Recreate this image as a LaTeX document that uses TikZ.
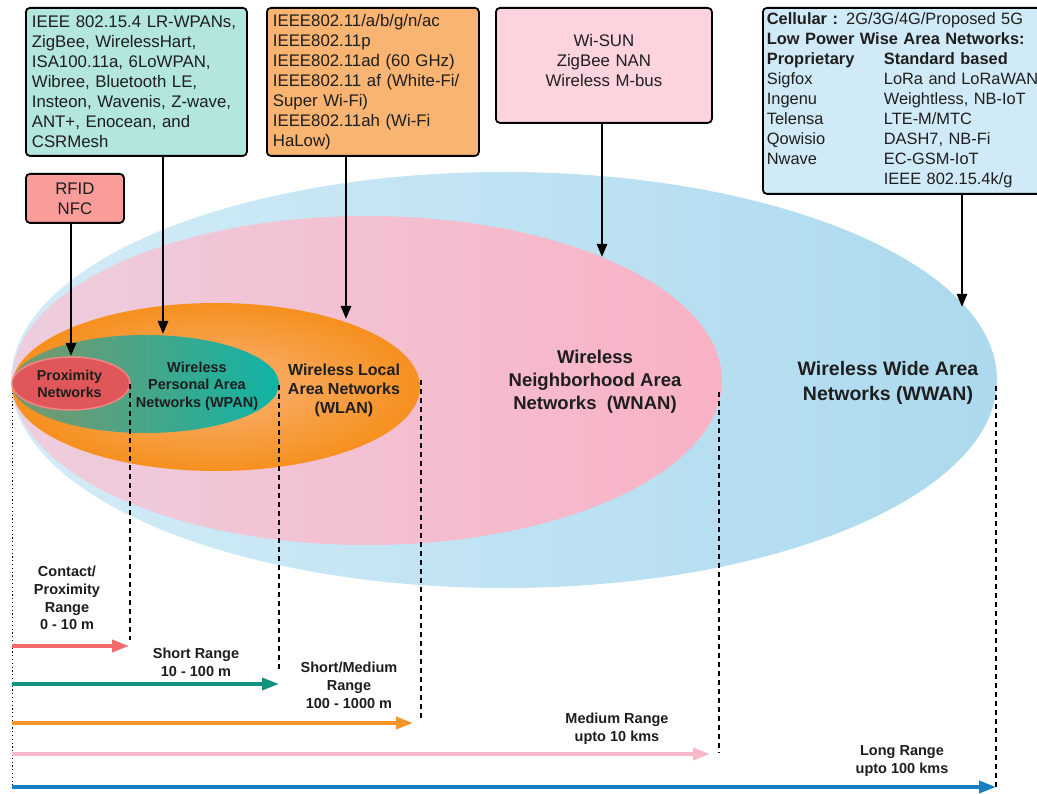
\documentclass[tikz,border=0pt]{standalone}
\usepackage{fontspec}
\setmainfont{Liberation Sans}
\usetikzlibrary{shapes.geometric,arrows.meta}
\definecolor{wwanL}{HTML}{D3ECF7}
\definecolor{wwanR}{HTML}{ACD9EE}
\definecolor{wnanL}{HTML}{EDCEDE}
\definecolor{wnanR}{HTML}{F9B2C5}
\definecolor{wlanIn}{HTML}{F9B37A}
\definecolor{wlanOut}{HTML}{F6901E}
\definecolor{wpanL}{HTML}{7C976A}
\definecolor{wpanR}{HTML}{10B4A6}
\definecolor{proxF}{HTML}{E0575A}
\definecolor{proxD}{HTML}{F28585}
\definecolor{boxTeal}{HTML}{B3E6DF}
\definecolor{boxOrange}{HTML}{FAB472}
\definecolor{boxPink}{HTML}{FDD3DE}
\definecolor{boxBlue}{HTML}{D0EAF7}
\definecolor{boxRed}{HTML}{F99C9A}
\definecolor{rRed}{HTML}{F26B6B}
\definecolor{rTeal}{HTML}{15917F}
\definecolor{rOrange}{HTML}{F5952C}
\definecolor{rPink}{HTML}{F7B8CA}
\definecolor{rBlue}{HTML}{1580C0}
\definecolor{txt}{HTML}{1E1E1E}
\begin{document}
\begin{tikzpicture}[x=1pt,y=-1pt,
  box/.style={draw=black, line width=1.8pt, rounded corners=4pt, anchor=north west,
    inner xsep=6pt, inner ysep=0pt, text=txt, font=\fontsize{16.8}{20}\selectfont},
  ell/.style={ellipse, draw=none, inner sep=0pt, outer sep=0pt},
  lbl/.style={align=center, inner sep=0pt, text=txt},
  conn/.style={line width=2.5pt, -{Triangle[length=13pt,width=10pt]}},
  guide/.style={line width=1.6pt, dash pattern=on 5pt off 4pt},
  rng/.style={line width=3.6pt, -{Triangle[length=17pt,width=12pt]}},
]
\useasboundingbox (0,0) rectangle (1037,794);
\fill[white] (0,0) rectangle (1037,794);

% ellipses
\node[ell, minimum width=986, minimum height=416, left color=wwanL, right color=wwanR] (wwan) at (504,380) {};
\node[ell, minimum width=710, minimum height=329, left color=wnanL, right color=wnanR] (wnan) at (367,380.5) {};
\node[ell, minimum width=408, minimum height=168, inner color=wlanIn, outer color=wlanOut] (wlan) at (216,387) {};
\node[ell, minimum width=267, minimum height=98, left color=wpanL, right color=wpanR] (wpan) at (145.5,384) {};
\node[ell, minimum width=118, minimum height=53, fill=proxF, draw=proxD, line width=1.5pt] (prox) at (71,383.5) {};

% ellipse labels
\node[lbl, font=\bfseries\fontsize{14.3}{17}\selectfont] (proxlbl) at (69.5,384) {Proximity\\Networks};
\node[lbl, font=\bfseries\fontsize{14.5}{17.5}\selectfont] (wpanlbl) at (197,386) {Wireless\\Personal Area\\Networks (WPAN)};
\node[lbl, font=\bfseries\fontsize{16}{19}\selectfont] (wlanlbl) at (344,390) {Wireless Local\\Area Networks\\(WLAN)};
\node[lbl, font=\bfseries\fontsize{18.5}{23}\selectfont] (wnanlbl) at (595,382) {Wireless\\Neighborhood Area\\Networks\ \ (WNAN)};
\node[lbl, font=\bfseries\fontsize{19.5}{25}\selectfont] (wwanlbl) at (888,383) {Wireless Wide Area\\Networks (WWAN)};

% boxes
\node[box, fill=boxTeal, minimum width=221, minimum height=148, text width=209, align=left] (wpanbox) at (25,7)
  {IEEE 802.15.4 LR-WPANs,\\ZigBee, WirelessHart,\\ISA100.11a, 6LoWPAN,\\Wibree, Bluetooth LE,\\Insteon, Wavenis, Z-wave,\\ANT+, Enocean, and\\CSRMesh};
\node[box, fill=boxOrange, minimum width=212, minimum height=148, text width=200, align=left] (wlanbox) at (266,7)
  {IEEE802.11/a/b/g/n/ac\\IEEE802.11p\\IEEE802.11ad (60 GHz)\\IEEE802.11 af (White-Fi/\\Super Wi-Fi)\\IEEE802.11ah (Wi-Fi\\HaLow)};
\node[box, fill=boxPink, minimum width=216, minimum height=115, text width=204, align=center] (wnanbox) at (495,7)
  {Wi-SUN\\ZigBee NAN\\Wireless M-bus\\[-10pt]\mbox{}};
\node[box, fill=boxBlue, minimum width=290, minimum height=186, inner xsep=4pt, text width=282, align=left,
      font=\fontsize{16.4}{20}\selectfont] (wwanbox) at (762,7)
  {\begin{tabular}{@{}p{117pt}@{}l@{}}
   \multicolumn{2}{@{}l@{}}{\textbf{Cellular :} 2G/3G/4G/Proposed 5G}\\
   \multicolumn{2}{@{}l@{}}{\textbf{Low Power Wise Area Networks:}}\\
   \textbf{Proprietary} & \textbf{Standard based}\\
   Sigfox & LoRa and LoRaWAN\\
   Ingenu & Weightless, NB-IoT\\
   Telensa & LTE-M/MTC\\
   Qowisio & DASH7, NB-Fi\\
   Nwave & EC-GSM-IoT\\
    & IEEE 802.15.4k/g
   \end{tabular}};
\node[box, fill=boxRed, minimum width=98, minimum height=49, text width=86, align=center] (proxbox) at (25,173)
  {RFID\\NFC};

% connector tips
\coordinate (tProx) at (71,356);
\coordinate (tWpan) at (163,334);
\coordinate (tWlan) at (346,319);
\coordinate (tWnan) at (602,257);
\coordinate (tWwan) at (962,307);

\draw[conn] (proxbox.south -| tProx) -- (tProx);
\draw[conn] (wpanbox.south -| tWpan) -- (tWpan);
\draw[conn] (wlanbox.south -| tWlan) -- (tWlan);
\draw[conn] (wnanbox.south -| tWnan) -- (tWnan);
\draw[conn] (wwanbox.south -| tWwan) -- (tWwan);

% guide lines
\coordinate (g0a) at (12,393);  \coordinate (g0b) at (12,792);
\coordinate (g1a) at (130,384); \coordinate (g1b) at (130,640);
\coordinate (g2a) at (279,385); \coordinate (g2b) at (279,672);
\coordinate (g3a) at (421,380); \coordinate (g3b) at (421,720);
\coordinate (g4a) at (719,392); \coordinate (g4b) at (719,753);
\coordinate (g5a) at (996,386); \coordinate (g5b) at (996,789);
\draw[line width=1pt, dash pattern=on 1.2pt off 2.6pt] (g0a) -- (g0b);
\draw[guide] (g1a) -- (g1b);
\draw[guide] (g2a) -- (g2b);
\draw[guide] (g3a) -- (g3b);
\draw[guide] (g4a) -- (g4b);
\draw[guide] (g5a) -- (g5b);

% range arrows
\coordinate (a1s) at (12,646); \coordinate (a1e) at (129,646);
\coordinate (a2s) at (12,684); \coordinate (a2e) at (279,684);
\coordinate (a3s) at (12,723); \coordinate (a3e) at (413,723);
\coordinate (a4s) at (12,754); \coordinate (a4e) at (710,754);
\coordinate (a5s) at (12,787); \coordinate (a5e) at (996,787);
\draw[rng, rRed] (a1s) -- (a1e);
\draw[rng, rTeal] (a2s) -- (a2e);
\draw[rng, rOrange] (a3s) -- (a3e);
\draw[rng, rPink] (a4s) -- (a4e);
\draw[rng, rBlue] (a5s) -- (a5e);

% range labels
\node[lbl, font=\bfseries\fontsize{14.5}{17.8}\selectfont] (l1) at (67,598) {Contact/\\Proximity\\Range\\0 - 10 m};
\node[lbl, font=\bfseries\fontsize{14.5}{18}\selectfont] (l2) at (196,662) {Short Range\\10 - 100 m};
\node[lbl, font=\bfseries\fontsize{14.5}{18}\selectfont] (l3) at (349,685) {Short/Medium\\Range\\100 - 1000 m};
\node[lbl, font=\bfseries\fontsize{14.5}{18}\selectfont] (l4) at (617,729) {Medium Range\\upto 10 kms};
\node[lbl, font=\bfseries\fontsize{14.5}{17.5}\selectfont] (l5) at (902,761) {Long Range\\upto 100 kms};
\end{tikzpicture}
\end{document}
